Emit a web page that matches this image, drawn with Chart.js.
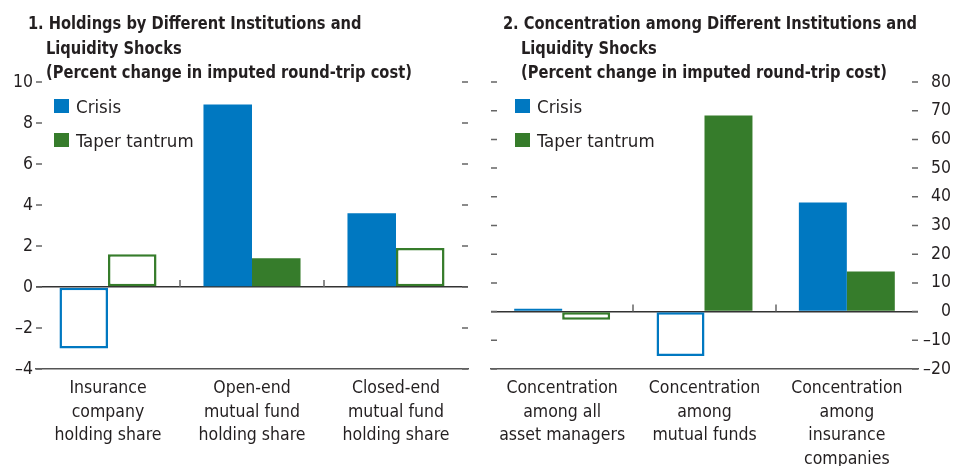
<!DOCTYPE html>
<html>
<head>
<meta charset="utf-8">
<script src="https://cdn.jsdelivr.net/npm/chart.js@4.4.1/dist/chart.umd.min.js"></script>
<style>
  body { margin: 0; background: #fff; width: 957px; height: 466px; overflow: hidden; position: relative;
         font-family: "DejaVu Sans Condensed", "DejaVu Sans", sans-serif; }
  canvas { position: absolute; top: 0; }
  #holdChart { left: 0; }
  #concChart { left: 478px; }
  .ttl { position: absolute; top: 11px; font-weight: bold; font-size: 18px; line-height: 24.5px;
         color: #231f20; text-indent: -20px; white-space: nowrap;
         transform: scaleX(0.905); transform-origin: 0 0; }
</style>
</head>
<body>
<canvas id="holdChart" width="478" height="466"></canvas>
<canvas id="concChart" width="479" height="466"></canvas>
<div class="ttl" style="left:46px">1. Holdings by Different Institutions and<br>Liquidity Shocks<br>(Percent change in imputed round-trip cost)</div>
<div class="ttl" style="left:521px">2. Concentration among Different Institutions and<br>Liquidity Shocks<br>(Percent change in imputed round-trip cost)</div>
<script>
// panel 1 data
const holdLabels = [['Insurance', 'company', 'holding share'], ['Open-end', 'mutual fund', 'holding share'], ['Closed-end', 'mutual fund', 'holding share']];
const holdCrisis = [-3.0, 8.9, 3.6];
const holdTaper = [1.6, 1.4, 1.9];
// filled = significant, outline = not significant
const holdCrisisSig = [false, true, true];
const holdTaperSig = [false, true, false];
const holdTicks = [-4, -2, 0, 2, 4, 6, 8, 10];

// panel 2 data
const concLabels = [['Concentration', 'among all', 'asset managers'], ['Concentration', 'among', 'mutual funds'], ['Concentration', 'among', 'insurance', 'companies']];
const concCrisis = [1.0, -15.5, 38];
const concTaper = [-2.8, 68.3, 14];
const concCrisisSig = [true, false, true];
const concTaperSig = [false, true, true];
const concTicks = [-20, -10, 0, 10, 20, 30, 40, 50, 60, 70, 80];

const BLUE = '#0078c1';
const GREEN = '#367c2b';
const TXT = '#231f20';
const FONT = '"DejaVu Sans Condensed", "DejaVu Sans", sans-serif';

// inner tick marks, category separators and the legend box
const panelMarks = {
    id: 'panelMarks',
    afterDraw(chart, args, opts) {
        const { ctx, chartArea: a, scales: { x, y } } = chart;
        ctx.save();
        ctx.strokeStyle = '#666';
        ctx.lineWidth = 1.5;
        y.ticks.forEach(t => {
            const py = y.getPixelForValue(t.value);
            ctx.beginPath();
            ctx.moveTo(a.left, py); ctx.lineTo(a.left + 6, py);
            ctx.moveTo(a.right - 6, py); ctx.lineTo(a.right, py);
            ctx.stroke();
        });
        const zy = y.getPixelForValue(0);
        for (let i = 0; i < x.ticks.length - 1; i++) {
            const px = Math.round((x.getPixelForValue(i) + x.getPixelForValue(i + 1)) / 2);
            ctx.beginPath();
            ctx.moveTo(px, zy); ctx.lineTo(px, zy - 7);
            ctx.stroke();
        }
        ctx.font = '18.5px ' + FONT;
        ctx.textBaseline = 'middle';
        chart.data.datasets.forEach((ds, i) => {
            const cy = a.top + 24 + 34 * i;
            ctx.fillStyle = ds.borderColor;
            ctx.fillRect(a.left + opts.boxX, cy - 7, 15, 14);
            ctx.fillStyle = TXT;
            ctx.fillText(ds.label, a.left + opts.textX, cy + 2);
        });
        ctx.restore();
    }
};

function barSet(label, values, sig, color) {
    return {
        label: label,
        data: values,
        backgroundColor: sig.map(s => s ? color : '#ffffff'),
        borderColor: color,
        borderWidth: sig.map(s => s ? 0 : 2.5),
        borderSkipped: false,
        categoryPercentage: 0.674,
        barPercentage: 1
    };
}

function makeChart(id, labels, crisis, crisisSig, taper, taperSig, ticks, side, pad, axisW, legendPos) {
    const ctx = document.getElementById(id).getContext('2d');
    return new Chart(ctx, {
        type: 'bar',
        data: {
            labels: labels,
            datasets: [
                barSet('Crisis', crisis, crisisSig, BLUE),
                barSet('Taper tantrum', taper, taperSig, GREEN)
            ]
        },
        options: {
            responsive: false,
            maintainAspectRatio: false,
            animation: false,
            layout: { padding: pad },
            plugins: {
                legend: { display: false },
                tooltip: { enabled: false },
                panelMarks: legendPos
            },
            scales: {
                x: {
                    grid: { display: false },
                    border: { display: true, color: '#555', width: 1.5 },
                    ticks: { font: { family: FONT, size: 17.5, lineHeight: 1.34 }, color: TXT, padding: 0, maxRotation: 0, autoSkip: false },
                    afterFit: s => { s.height = 97; }
                },
                y: {
                    position: side,
                    min: ticks[0],
                    max: ticks[ticks.length - 1],
                    afterBuildTicks: s => { s.ticks = ticks.map(v => ({ value: v })); },
                    grid: {
                        drawTicks: false,
                        lineWidth: 1.5,
                        color: c => (c.tick && c.tick.value === 0) ? '#333' : 'rgba(0,0,0,0)'
                    },
                    border: { display: false },
                    ticks: {
                        font: { family: FONT, size: 17.5 },
                        color: TXT,
                        padding: 3,
                        crossAlign: side === 'right' ? 'far' : 'near',
                        callback: v => v < 0 ? '\u2013' + Math.abs(v) : String(v)
                    },
                    afterFit: s => { s.width = axisW; }
                }
            }
        },
        plugins: [panelMarks]
    });
}

makeChart('holdChart', holdLabels, holdCrisis, holdCrisisSig, holdTaper, holdTaperSig, holdTicks,
    'left', { top: 82, left: 0, right: 10, bottom: 0 }, 36, { boxX: 18, textX: 40 });
makeChart('concChart', concLabels, concCrisis, concCrisisSig, concTaper, concTaperSig, concTicks,
    'right', { top: 82, left: 13, right: 6, bottom: 0 }, 33, { boxX: 24, textX: 46 });
</script>
</body>
</html>
